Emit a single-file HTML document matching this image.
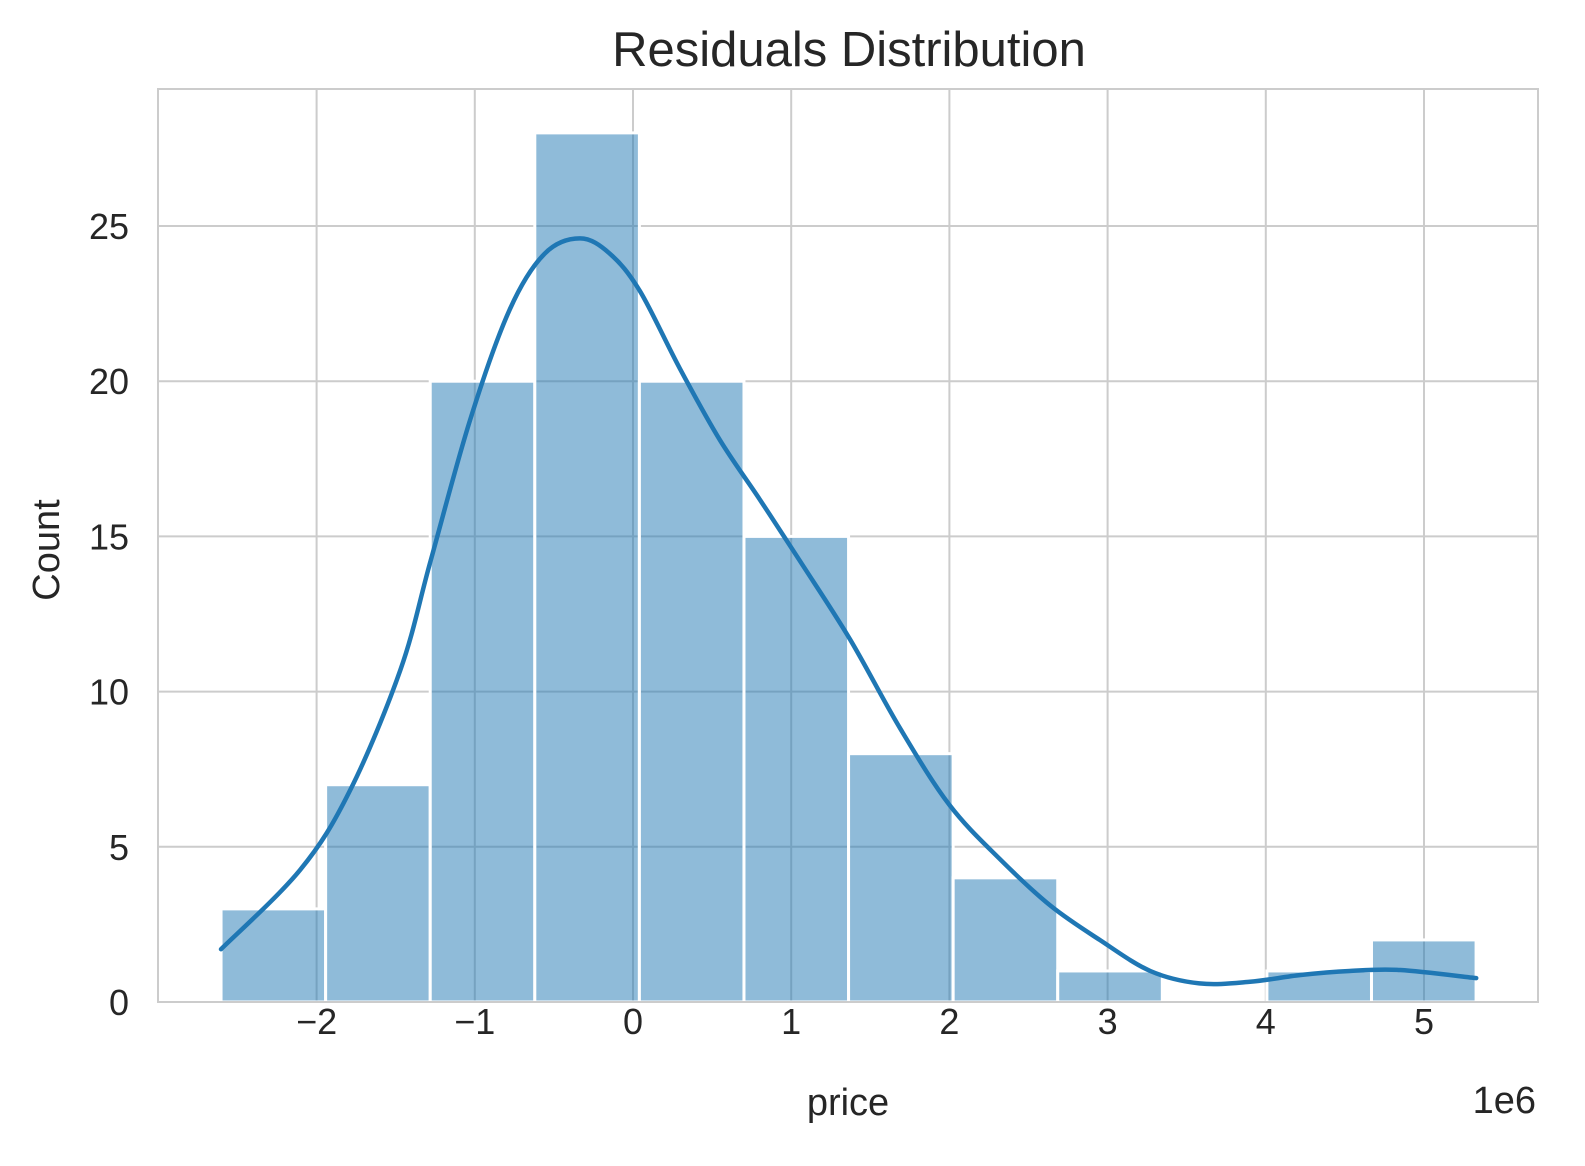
<!DOCTYPE html>
<html><head><meta charset="utf-8"><style>
html,body{margin:0;padding:0;background:#fff;}
svg{display:block;font-family:"Liberation Sans",Arial,sans-serif;}
</style></head><body>
<svg id="chart" width="1585" height="1166" viewBox="0 0 1585 1166">
<rect x="0" y="0" width="1585" height="1166" fill="#fff"/>
<g id="grid"></g>
<g id="bars"></g>
<path id="kde" fill="none" stroke="#1f77b4" stroke-width="4.5" stroke-linecap="round" stroke-linejoin="round"/>
<rect x="158" y="89" width="1380" height="913" fill="none" stroke="#cccccc" stroke-width="2"/>
<g id="xticks"></g>
<g id="yticks"></g>
<text x="849" y="66" text-anchor="middle" font-size="49" fill="#262626">Residuals Distribution</text>
<text x="848" y="1115" text-anchor="middle" font-size="38" fill="#262626">price</text>
<text x="1536" y="1113" text-anchor="end" font-size="38" fill="#262626">1e6</text>
<text transform="translate(59,550) rotate(-90)" text-anchor="middle" font-size="38" fill="#262626">Count</text>
</svg>
<script>
const binStart = -2.604;
const binWidth = 0.6611;
const counts = [3,7,20,28,20,15,8,4,1,0,1,2];
const xTicks = [-2,-1,0,1,2,3,4,5];
const xTickLabels = ["\u22122","\u22121","0","1","2","3","4","5"];
const yTicks = [0,5,10,15,20,25];
const kdeX = [-2.604,-2.105,-1.79,-1.47,-1.28,-1.03,-0.78,-0.56,-0.335,-0.145,0.044,0.297,0.55,0.80,1.056,1.37,1.69,2.0,2.32,2.64,2.95,3.27,3.58,3.90,4.22,4.53,4.85,5.33];
const kdeY = [1.7,4.25,6.8,10.7,14.2,18.75,22.3,24.1,24.6,24.1,22.9,20.4,18.1,16.2,14.2,11.7,8.8,6.35,4.6,3.1,2.0,1.0,0.6,0.65,0.87,1.0,1.03,0.77];

const NS="http://www.w3.org/2000/svg";
const X = v => 633 + v*158.2;
const Y = v => 1002 - v*31.04;
function mk(tag, attrs, parent){const e=document.createElementNS(NS,tag);for(const k in attrs)e.setAttribute(k,attrs[k]);parent.appendChild(e);return e;}
const grid=document.getElementById('grid');
xTicks.forEach(t=>{
  const l=mk('line',{x1:X(t),x2:X(t),y1:89,y2:1002,stroke:'#cccccc','stroke-width':2},grid);
  
  
});
yTicks.forEach(t=>{
  const l=mk('line',{x1:158,x2:1538,y1:Y(t),y2:Y(t),stroke:'#cccccc','stroke-width':2},grid);
  
  
});
const bars=document.getElementById('bars');
counts.forEach((c,i)=>{
  if(c<=0) return;
  const x0=X(binStart+i*binWidth), x1=X(binStart+(i+1)*binWidth);
  const r=mk('rect',{x:x0,y:Y(c),width:x1-x0,height:Y(0)-Y(c),fill:'rgba(31,119,180,0.5)',stroke:'#fff','stroke-width':3},bars);
  
  
});
const pts=kdeX.map((x,i)=>[X(x),Y(kdeY[i])]);
let d='M'+pts[0][0].toFixed(1)+' '+pts[0][1].toFixed(1);
for(let i=0;i<pts.length-1;i++){
  const p0=pts[Math.max(0,i-1)],p1=pts[i],p2=pts[i+1],p3=pts[Math.min(pts.length-1,i+2)];
  const c1=[p1[0]+(p2[0]-p0[0])/6,p1[1]+(p2[1]-p0[1])/6];
  const c2=[p2[0]-(p3[0]-p1[0])/6,p2[1]-(p3[1]-p1[1])/6];
  d+=' C'+c1.map(v=>v.toFixed(1)).join(' ')+' '+c2.map(v=>v.toFixed(1)).join(' ')+' '+p2.map(v=>v.toFixed(1)).join(' ');
}
document.getElementById('kde').setAttribute('d', d);
const xt=document.getElementById('xticks');
xTicks.forEach((t,i)=>{
  const e=mk('text',{x:X(t),y:1034,'text-anchor':'middle','font-size':36,fill:'#262626'},xt);
  e.textContent=xTickLabels[i];
  
  
});
const yt=document.getElementById('yticks');
yTicks.forEach(t=>{
  const e=mk('text',{x:129,y:Y(t)+13,'text-anchor':'end','font-size':36,fill:'#262626'},yt);
  e.textContent=String(t);
  
  
});
</script>
</body></html>
